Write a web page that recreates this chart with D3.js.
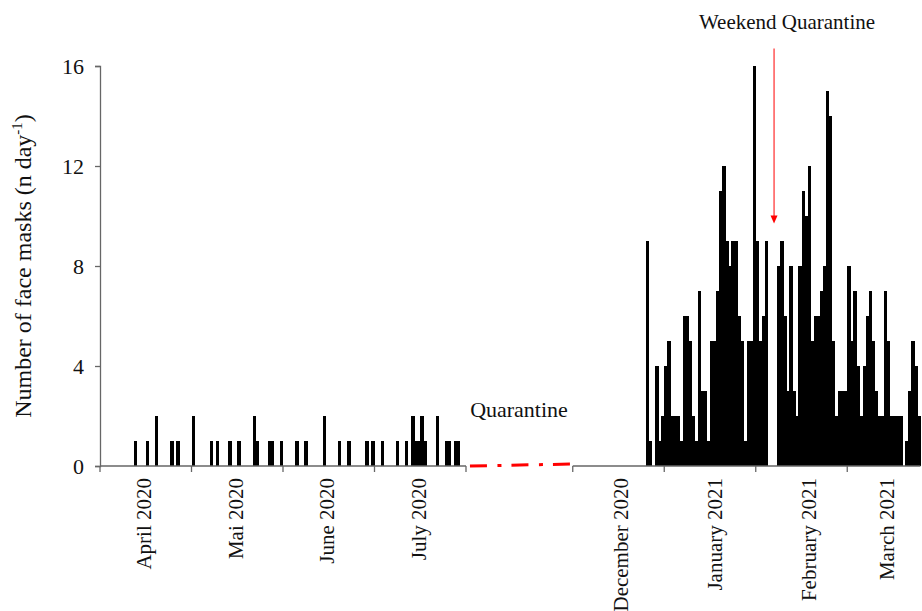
<!DOCTYPE html>
<html>
<head>
<meta charset="utf-8">
<script src="https://cdn.jsdelivr.net/npm/d3@7"></script>
<style>
    body { margin: 0; background: #fff; }
    svg text { font-family: "Liberation Serif", "Times New Roman", serif; fill: #111; }
</style>
</head>
<body>
<svg id="chart" width="922" height="611"></svg>
<script>
// day index on the chart: 0 = 1 April 2020, Aug-Nov 2020 squeezed into the quarantine gap
const springDay = [11, 15, 18, 23, 25, 30, 36, 38, 42, 45, 50, 51, 55, 56, 59, 64, 67, 73, 78, 81,
    87, 89, 92, 97, 100, 102, 103, 104, 105, 106, 110, 113, 114, 116, 117];
const springMasks = [1, 1, 2, 1, 1, 2, 1, 1, 1, 1, 2, 1, 1, 1, 1, 1, 1, 2, 1, 1,
    1, 1, 1, 1, 1, 2, 1, 1, 2, 1, 2, 1, 1, 1, 1];

// daily counts from the first winter day with masks on
const winterStart = 179;
const winterMasks = [
    9, 1, 0, 4, 1, 2, 4, 5, 2, 2,
    2, 1, 6, 6, 5, 2, 1, 7, 3, 3,
    1, 5, 5, 7, 11, 12, 9, 8, 9, 9,
    6, 5, 1, 5, 5, 16, 9, 5, 6, 9,
    0, 0, 0, 8, 9, 6, 3, 8, 3, 2,
    8, 11, 10, 12, 5, 6, 6, 7, 8, 15,
    14, 5, 2, 3, 3, 3, 8, 5, 7, 4,
    2, 4, 6, 7, 5, 3, 2, 2, 7, 5,
    2, 2, 2, 2, 0, 1, 3, 5, 4, 2
];

const yTicks = [0, 4, 8, 12, 16];
const tickDays = [0, 30, 60, 90, 120, 155, 185, 215, 245];
const monthLabels = ["April 2020", "Mai 2020", "June 2020", "July 2020",
    "December 2020", "January 2021", "February 2021", "March 2021"];
const monthLabelDays = [14.5, 44.5, 74.5, 104.5, 171, 201.5, 232.5, 258];
const axisSegments = [[0, 120], [155, 269]];
const quarantineLine = [[121.3, 0], [155, 0.08]];
const weekendArrow = { day: 221, from: 16.7, to: 9.7 };

const svg = d3.select("#chart");
const step = 3.05;

const x = d3.scaleLinear()
    .domain([0, 269])
    .range([100, 100 + 269 * step]);

const y = d3.scaleLinear()
    .domain([0, 16])
    .range([466, 66]);

// build one list of bars from both periods
let bars = springDay.map((d, i) => ({ day: d, n: springMasks[i] }));
winterMasks.forEach((n, i) => bars.push({ day: winterStart + i, n }));
bars = bars.filter(d => d.n > 0);

svg.append("g")
    .attr("shape-rendering", "crispEdges")
    .selectAll("rect")
    .data(bars)
    .enter().append("rect")
    .attr("x", d => x(d.day))
    .attr("y", d => y(d.n))
    .attr("width", step + 0.4)
    .attr("height", d => y(0) - y(d.n))
    .attr("fill", "#000");

// y axis
const yAxis = svg.append("g")
    .attr("transform", "translate(100,0)")
    .call(d3.axisLeft(y).tickValues(yTicks).tickSize(5).tickPadding(11));
yAxis.select(".domain").attr("stroke", "#666").attr("stroke-width", 1.3);
yAxis.selectAll(".tick line").attr("stroke", "#666").attr("stroke-width", 1.3);
yAxis.selectAll(".tick text")
    .attr("font-size", 22)
    .attr("font-family", "Liberation Serif, Times New Roman, serif")
    .attr("fill", "#111");

// x axis, broken where the quarantine line sits
svg.append("g")
    .selectAll("line")
    .data(axisSegments)
    .enter().append("line")
    .attr("x1", d => x(d[0]))
    .attr("x2", d => x(d[1]))
    .attr("y1", y(0))
    .attr("y2", y(0))
    .attr("stroke", "#666")
    .attr("stroke-width", 1.3);

svg.append("g")
    .selectAll("line")
    .data(tickDays)
    .enter().append("line")
    .attr("x1", d => x(d))
    .attr("x2", d => x(d))
    .attr("y1", y(0))
    .attr("y2", y(0) + 6)
    .attr("stroke", "#666")
    .attr("stroke-width", 1.3);

svg.append("g")
    .selectAll("text")
    .data(monthLabels)
    .enter().append("text")
    .attr("transform", (d, i) => `translate(${x(monthLabelDays[i])},478) rotate(-90)`)
    .attr("text-anchor", "end")
    .attr("dy", "0.33em")
    .attr("font-size", 21)
    .text(d => d);

// quarantine dash-dot line
svg.append("path")
    .datum(quarantineLine)
    .attr("d", d3.line().x(d => x(d[0])).y(d => y(d[1])))
    .attr("fill", "none")
    .attr("stroke", "#ff0000")
    .attr("stroke-width", 3)
    .attr("stroke-dasharray", "17,10.5,4,10");

svg.append("text")
    .attr("x", 519)
    .attr("y", 417)
    .attr("text-anchor", "middle")
    .attr("font-size", 22)
    .text("Quarantine");

// weekend quarantine arrow
svg.append("text")
    .attr("x", 787)
    .attr("y", 28.5)
    .attr("text-anchor", "middle")
    .attr("font-size", 21)
    .text("Weekend Quarantine");

svg.append("line")
    .attr("x1", x(weekendArrow.day))
    .attr("x2", x(weekendArrow.day))
    .attr("y1", y(weekendArrow.from))
    .attr("y2", y(weekendArrow.to) - 7)
    .attr("stroke", "#ff0000")
    .attr("stroke-width", 1);

const ax = x(weekendArrow.day), ay = y(weekendArrow.to);
svg.append("path")
    .attr("d", `M${ax - 3.5},${ay - 8} L${ax + 3.5},${ay - 8} L${ax},${ay} Z`)
    .attr("fill", "#ff0000");

// y title with superscript
const title = svg.append("text")
    .attr("transform", "translate(23,266) rotate(-90)")
    .attr("text-anchor", "middle")
    .attr("dy", "0.33em")
    .attr("font-size", 24);
title.append("tspan").text("Number of face masks (n day");
title.append("tspan").attr("font-size", 15).attr("dy", -9).text("-1");
title.append("tspan").attr("dy", 9).text(")");
</script>
</body>
</html>
